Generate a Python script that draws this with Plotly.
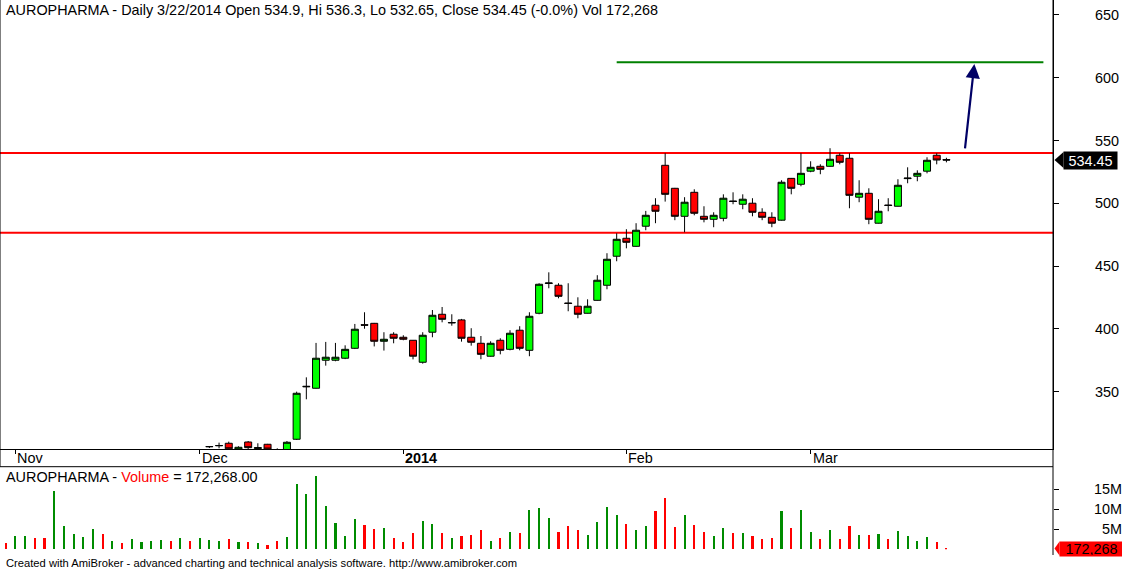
#!/usr/bin/env python
# coding: utf-8

"""
AUROPHARMA daily candlestick chart with volume pane, support / resistance
lines and a breakout target, redrawn in Plotly in the AmiBroker style.
"""

import plotly.graph_objects as go

# === data: one row per trading day, 31 Oct 2013 .. 22 Mar 2014 ===
opens = [262, 259, 264, 268, 264, 262, 282, 289, 291, 294,
         299, 293, 295, 292, 295, 297, 298, 300, 296, 299,
         297, 306.2, 307.0, 309.0, 304.0, 310.0, 304.8, 308.2, 304.0, 303.0,
         312.2, 353.9, 352.8, 375.1, 375.1, 376.7, 384.6, 403.4, 404.5, 390.2,
         395.8, 393.4, 391.0, 373.5, 397.4, 411.7, 404.8, 407.2, 393.4, 388.6,
         378.3, 391.0, 383.8, 399.0, 383.0, 412.5, 436.2, 434.8, 420.7, 418.1,
         412.5, 422.8, 434.8, 457.9, 472.2, 465.8, 481.8, 498.5, 530.3, 512.0,
         489.7, 508.8, 489.7, 487.3, 488.1, 501.9, 499.3, 500.1, 492.9, 488.9,
         486.6, 519.9, 515.2, 525.6, 529.5, 529.5, 538.3, 535.9, 504.9, 508.0,
         484.2, 498.7, 497.7, 519.7, 521.6, 525.6, 538.3, 534.9]
highs = [265, 266, 270, 270, 266, 285, 292, 294, 296, 301,
         301, 297, 296, 297, 299, 300, 302, 302, 301, 301,
         303, 306.6, 309.5, 310.3, 306.6, 310.8, 309.0, 308.5, 305.0, 310.8,
         350.1, 361.5, 388.9, 389.7, 388.9, 387.0, 404.0, 413.3, 404.8, 397.4,
         397.4, 395.0, 391.2, 397.4, 415.1, 417.5, 411.7, 408.0, 400.6, 394.4,
         390.2, 392.6, 399.0, 402.2, 413.3, 436.4, 445.1, 436.4, 436.4, 425.2,
         423.6, 442.8, 460.3, 476.2, 479.4, 484.2, 494.0, 504.1, 539.9, 512.3,
         504.9, 511.2, 497.7, 492.9, 507.2, 508.8, 507.2, 504.1, 496.1, 492.9,
         518.4, 520.2, 539.9, 533.5, 531.1, 543.9, 539.9, 539.9, 518.4, 512.0,
         503.3, 504.1, 519.2, 528.7, 526.3, 536.7, 539.9, 536.3]
lows = [258, 257, 262, 262, 258, 261, 280, 285, 288, 292,
        291, 291, 290, 290, 293, 294, 296, 295, 294, 295,
        296, 305.2, 305.0, 303.0, 302.0, 303.0, 303.0, 302.0, 301.0, 302.0,
        311.6, 344.0, 352.5, 370.8, 374.3, 376.0, 384.0, 400.2, 386.1, 382.8,
        388.6, 391.0, 375.8, 372.4, 393.4, 405.3, 402.6, 389.9, 386.7, 375.9,
        378.0, 379.8, 383.0, 383.0, 378.3, 411.7, 432.4, 424.4, 414.1, 408.5,
        412.3, 422.5, 431.6, 453.9, 464.2, 465.5, 478.6, 484.2, 501.4, 486.6,
        477.0, 490.5, 484.9, 481.0, 485.7, 499.3, 495.3, 489.7, 486.6, 481.0,
        486.3, 507.2, 513.6, 524.8, 523.2, 529.2, 531.1, 496.1, 500.9, 483.4,
        484.0, 493.7, 497.5, 516.0, 517.6, 523.9, 531.1, 532.65]
closes = [259, 264, 268, 264, 260, 282, 289, 291, 294, 299,
          293, 295, 292, 295, 297, 298, 300, 296, 299, 297,
          302, 306.4, 307.2, 304.6, 305.8, 305.5, 305.5, 304.4, 303.0, 309.8,
          348.8, 354.3, 376.7, 377.5, 377.5, 383.8, 399.8, 403.0, 390.2, 391.8,
          392.6, 391.8, 378.3, 395.0, 410.9, 407.7, 405.1, 392.6, 389.4, 379.8,
          388.6, 383.0, 396.6, 384.6, 410.1, 435.6, 436.6, 426.0, 420.3, 411.7,
          418.1, 438.8, 455.5, 471.4, 469.0, 478.6, 490.5, 493.7, 507.2, 489.7,
          500.9, 492.1, 487.3, 490.5, 504.1, 501.5, 503.3, 492.9, 488.9, 484.2,
          516.8, 512.0, 523.9, 528.7, 527.1, 535.1, 532.7, 506.4, 508.0, 487.3,
          493.7, 498.3, 514.4, 520.1, 523.9, 534.3, 534.5, 534.45]
volumes = [1.6e6, 3.25e6, 3.25e6, 2.8e6, 2.8e6, 14.6e6, 5.75e6, 3.75e6, 3.0e6, 5.0e6,
           3.75e6, 2.0e6, 1.5e6, 2.5e6, 1.8e6, 2.0e6, 2.25e6, 2.0e6, 2.75e6, 2.0e6,
           2.75e6, 2.25e6, 2.1e6, 2.5e6, 1.8e6, 1.8e6, 1.5e6, 1.0e6, 2.0e6, 3.0e6,
           16.3e6, 13.8e6, 18.25e6, 10.75e6, 6.6e6, 3.25e6, 7.5e6, 6.0e6, 5.0e6, 5.4e6,
           2.75e6, 1.75e6, 4.0e6, 7.0e6, 6.25e6, 4.0e6, 2.75e6, 3.25e6, 3.5e6, 4.75e6,
           2.0e6, 2.75e6, 4.25e6, 4.0e6, 9.75e6, 10.25e6, 7.75e6, 4.25e6, 5.75e6, 4.75e6,
           3.5e6, 6.75e6, 10.5e6, 8.5e6, 6.25e6, 4.75e6, 5.75e6, 9.5e6, 12.75e6, 5.5e6,
           8.5e6, 6.0e6, 4.25e6, 3.25e6, 5.25e6, 4.0e6, 4.0e6, 3.25e6, 2.5e6, 2.75e6,
           9.5e6, 5.25e6, 9.75e6, 4.25e6, 2.5e6, 4.75e6, 2.5e6, 5.75e6, 3.5e6, 3.5e6,
           3.75e6, 2.5e6, 4.5e6, 3.25e6, 2.0e6, 3.0e6, 1.75e6, 172268]

# month boundaries (bar index) and their labels
month_ticks = [1, 20, 41, 64, 83]
month_labels = ['Nov', 'Dec', '<b>2014</b>', 'Feb', 'Mar']

price_ticks = [350, 400, 450, 500, 550, 600, 650]
vol_ticks = [5e6, 10e6, 15e6]
vol_tick_labels = ['\u20075M', '10M', '15M']

# drawn levels
resistance = 540.1
support = 476.7
target = 612.3
target_span = [63, 107]
arrow_from = (98.9, 542.5)
arrow_to = (99.88, 611.0)

TICKER = 'AUROPHARMA'
LAST_DATE = '3/22/2014'


def main():

    # === 1: geometry of the page (pixels of a 1122 x 570 canvas) ===
    W, H = 1122, 570
    plot_w = 1053
    price_range = [304.2, 661.9]
    price_dom = [1 - 449.3 / H, 1.0]
    vol_range = [0, 20.575e6]
    vol_dom = [1 - 549.3 / H, 1 - 467 / H]

    def px(x):
        return x / plot_w

    def py(y):
        return 1 - y / H

    def to_paper(v, rng, dom):
        return dom[0] + (v - rng[0]) / (rng[1] - rng[0]) * (dom[1] - dom[0])

    font = 'Liberation Sans, Arial, sans-serif'
    fs = 14.4
    idx = list(range(len(closes)))

    # === 2: candles + volume ===
    fig = go.Figure()
    fig.add_trace(go.Candlestick(
        x=idx, open=opens, high=highs, low=lows, close=closes,
        xaxis='x', yaxis='y',
        increasing=dict(fillcolor='#00FF00', line=dict(color='black', width=1)),
        decreasing=dict(fillcolor='#FF0000', line=dict(color='black', width=1)),
        whiskerwidth=0, showlegend=False, name=TICKER
    ))

    vol_colors = ['#008C00' if c >= o else '#FF0000' for o, c in zip(opens, closes)]
    fig.add_trace(go.Bar(
        x=idx, y=volumes, xaxis='x2', yaxis='y2',
        marker=dict(color=vol_colors, line=dict(width=0)),
        width=0.22, showlegend=False, name='Volume'
    ))

    # === 3: axes ===
    fig.update_layout(
        width=W, height=H,
        margin=dict(l=0, r=W - plot_w, t=0, b=0),
        plot_bgcolor='white', paper_bgcolor='white',
        font=dict(family=font, size=fs, color='black'),
        boxgap=0.15, boxgroupgap=0.15,
        xaxis=dict(
            domain=[0, 1], anchor='y', range=[-0.588, 107.99],
            rangeslider=dict(visible=False),
            tickvals=month_ticks, ticks='outside', ticklen=4, tickcolor='black',
            showticklabels=False, showgrid=False, zeroline=False,
            showline=True, linecolor='black', linewidth=1, mirror=True
        ),
        xaxis2=dict(
            domain=[0, 1], anchor='y2', matches='x',
            showticklabels=False, showgrid=False, zeroline=False, showline=False
        ),
        yaxis=dict(
            domain=price_dom, range=price_range, side='right', anchor='x',
            tickvals=price_ticks, ticks='outside', ticklen=5, tickcolor='black',
            ticklabelstandoff=33, tickfont=dict(size=fs),
            showgrid=False, zeroline=False,
            showline=True, linecolor='black', linewidth=1, mirror=True
        ),
        yaxis2=dict(
            domain=vol_dom, range=vol_range, side='right', anchor='x2',
            tickvals=vol_ticks, ticktext=vol_tick_labels,
            ticks='outside', ticklen=5, tickcolor='black',
            ticklabelstandoff=32, tickfont=dict(size=fs),
            showgrid=False, zeroline=False, showline=False
        ),
        bargap=0
    )

    # === 4: support / resistance / target ===
    for level in (resistance, support):
        fig.add_shape(type='line', xref='paper', yref='y', x0=0, x1=1,
                      y0=level, y1=level, layer='below',
                      line=dict(color='#FF0000', width=2))
    fig.add_shape(type='line', xref='x', yref='y',
                  x0=target_span[0], x1=target_span[1], y0=target, y1=target,
                  line=dict(color='#008000', width=2))
    fig.add_annotation(
        x=arrow_to[0], y=arrow_to[1], ax=arrow_from[0], ay=arrow_from[1],
        xref='x', yref='y', axref='x', ayref='y', text='',
        showarrow=True, arrowhead=2, arrowsize=1.3, arrowwidth=2.2,
        arrowcolor='#000066'
    )

    # === 5: pane frames ===
    fig.add_shape(type='line', xref='paper', yref='paper', x0=0, x1=1,
                  y0=py(466.7), y1=py(466.7), line=dict(color='black', width=1))
    fig.add_shape(type='line', xref='paper', yref='paper', x0=1, x1=1,
                  y0=py(555), y1=1, line=dict(color='black', width=1))
    fig.add_shape(type='line', xref='paper', yref='paper', x0=0, x1=0,
                  y0=py(466.7), y1=1, line=dict(color='black', width=1))

    # === 6: texts ===
    o, h, l, c, v = opens[-1], highs[-1], lows[-1], closes[-1], volumes[-1]
    pct = (c - closes[-2]) / closes[-2] * 100
    title = (f"{TICKER} - Daily {LAST_DATE} Open {o}, Hi {h}, Lo {l}, "
             f"Close {c} ({pct:.1f}%) Vol {int(v):,}")
    fig.add_annotation(text=title, xref='paper', yref='paper', x=px(4), y=py(10),
                       xanchor='left', yanchor='middle', showarrow=False,
                       font=dict(size=fs, color='black'))
    fig.add_annotation(
        text=f"{TICKER} - <span style='color:#FF0000'>Volume</span> = {v:,.2f}",
        xref='paper', yref='paper', x=px(4), y=py(477),
        xanchor='left', yanchor='middle', showarrow=False,
        font=dict(size=fs, color='black'))
    fig.add_annotation(
        text="Created with AmiBroker - advanced charting and technical analysis software. http://www.amibroker.com",
        xref='paper', yref='paper', x=px(4), y=py(563),
        xanchor='left', yanchor='middle', showarrow=False,
        font=dict(size=11.2, color='black'))

    for t, lab in zip(month_ticks, month_labels):
        fig.add_annotation(text=lab, xref='x', yref='paper', x=t, y=py(458),
                           xanchor='left', yanchor='middle', xshift=0,
                           showarrow=False, font=dict(size=fs, color='black'))

    # last-price tag on the price axis
    yc = to_paper(c, price_range, price_dom)
    fig.add_shape(type='path', xref='paper', yref='paper',
                  path=f"M {px(1054.5)} {yc} L {px(1063.5)} {yc + 8 / H} "
                       f"L {px(1063.5)} {yc - 8 / H} Z",
                  fillcolor='black', line=dict(width=0))
    fig.add_annotation(text=f"{c}", xref='paper', yref='y', x=px(1063), y=c,
                       xanchor='left', yanchor='middle', showarrow=False,
                       bgcolor='black', width=51, height=15, borderpad=1,
                       font=dict(size=fs, color='white'))

    # last-volume tag on the volume axis
    yv = to_paper(v, vol_range, vol_dom)
    fig.add_shape(type='path', xref='paper', yref='paper',
                  path=f"M {px(1054.5)} {yv} L {px(1059.5)} {yv + 7 / H} "
                       f"L {px(1059.5)} {yv - 7 / H} Z",
                  fillcolor='#FF0000', line=dict(width=0))
    fig.add_annotation(text=f"{int(v):,}", xref='paper', yref='y2', x=px(1059), y=v,
                       xanchor='left', yanchor='middle', showarrow=False,
                       bgcolor='#FF0000', width=61, height=12, borderpad=1,
                       font=dict(size=fs, color='black'))

    fig.write_html("out.html", config={'displayModeBar': False},
                   post_script="document.body.style.margin='0';")


if __name__ == "__main__":
    main()
